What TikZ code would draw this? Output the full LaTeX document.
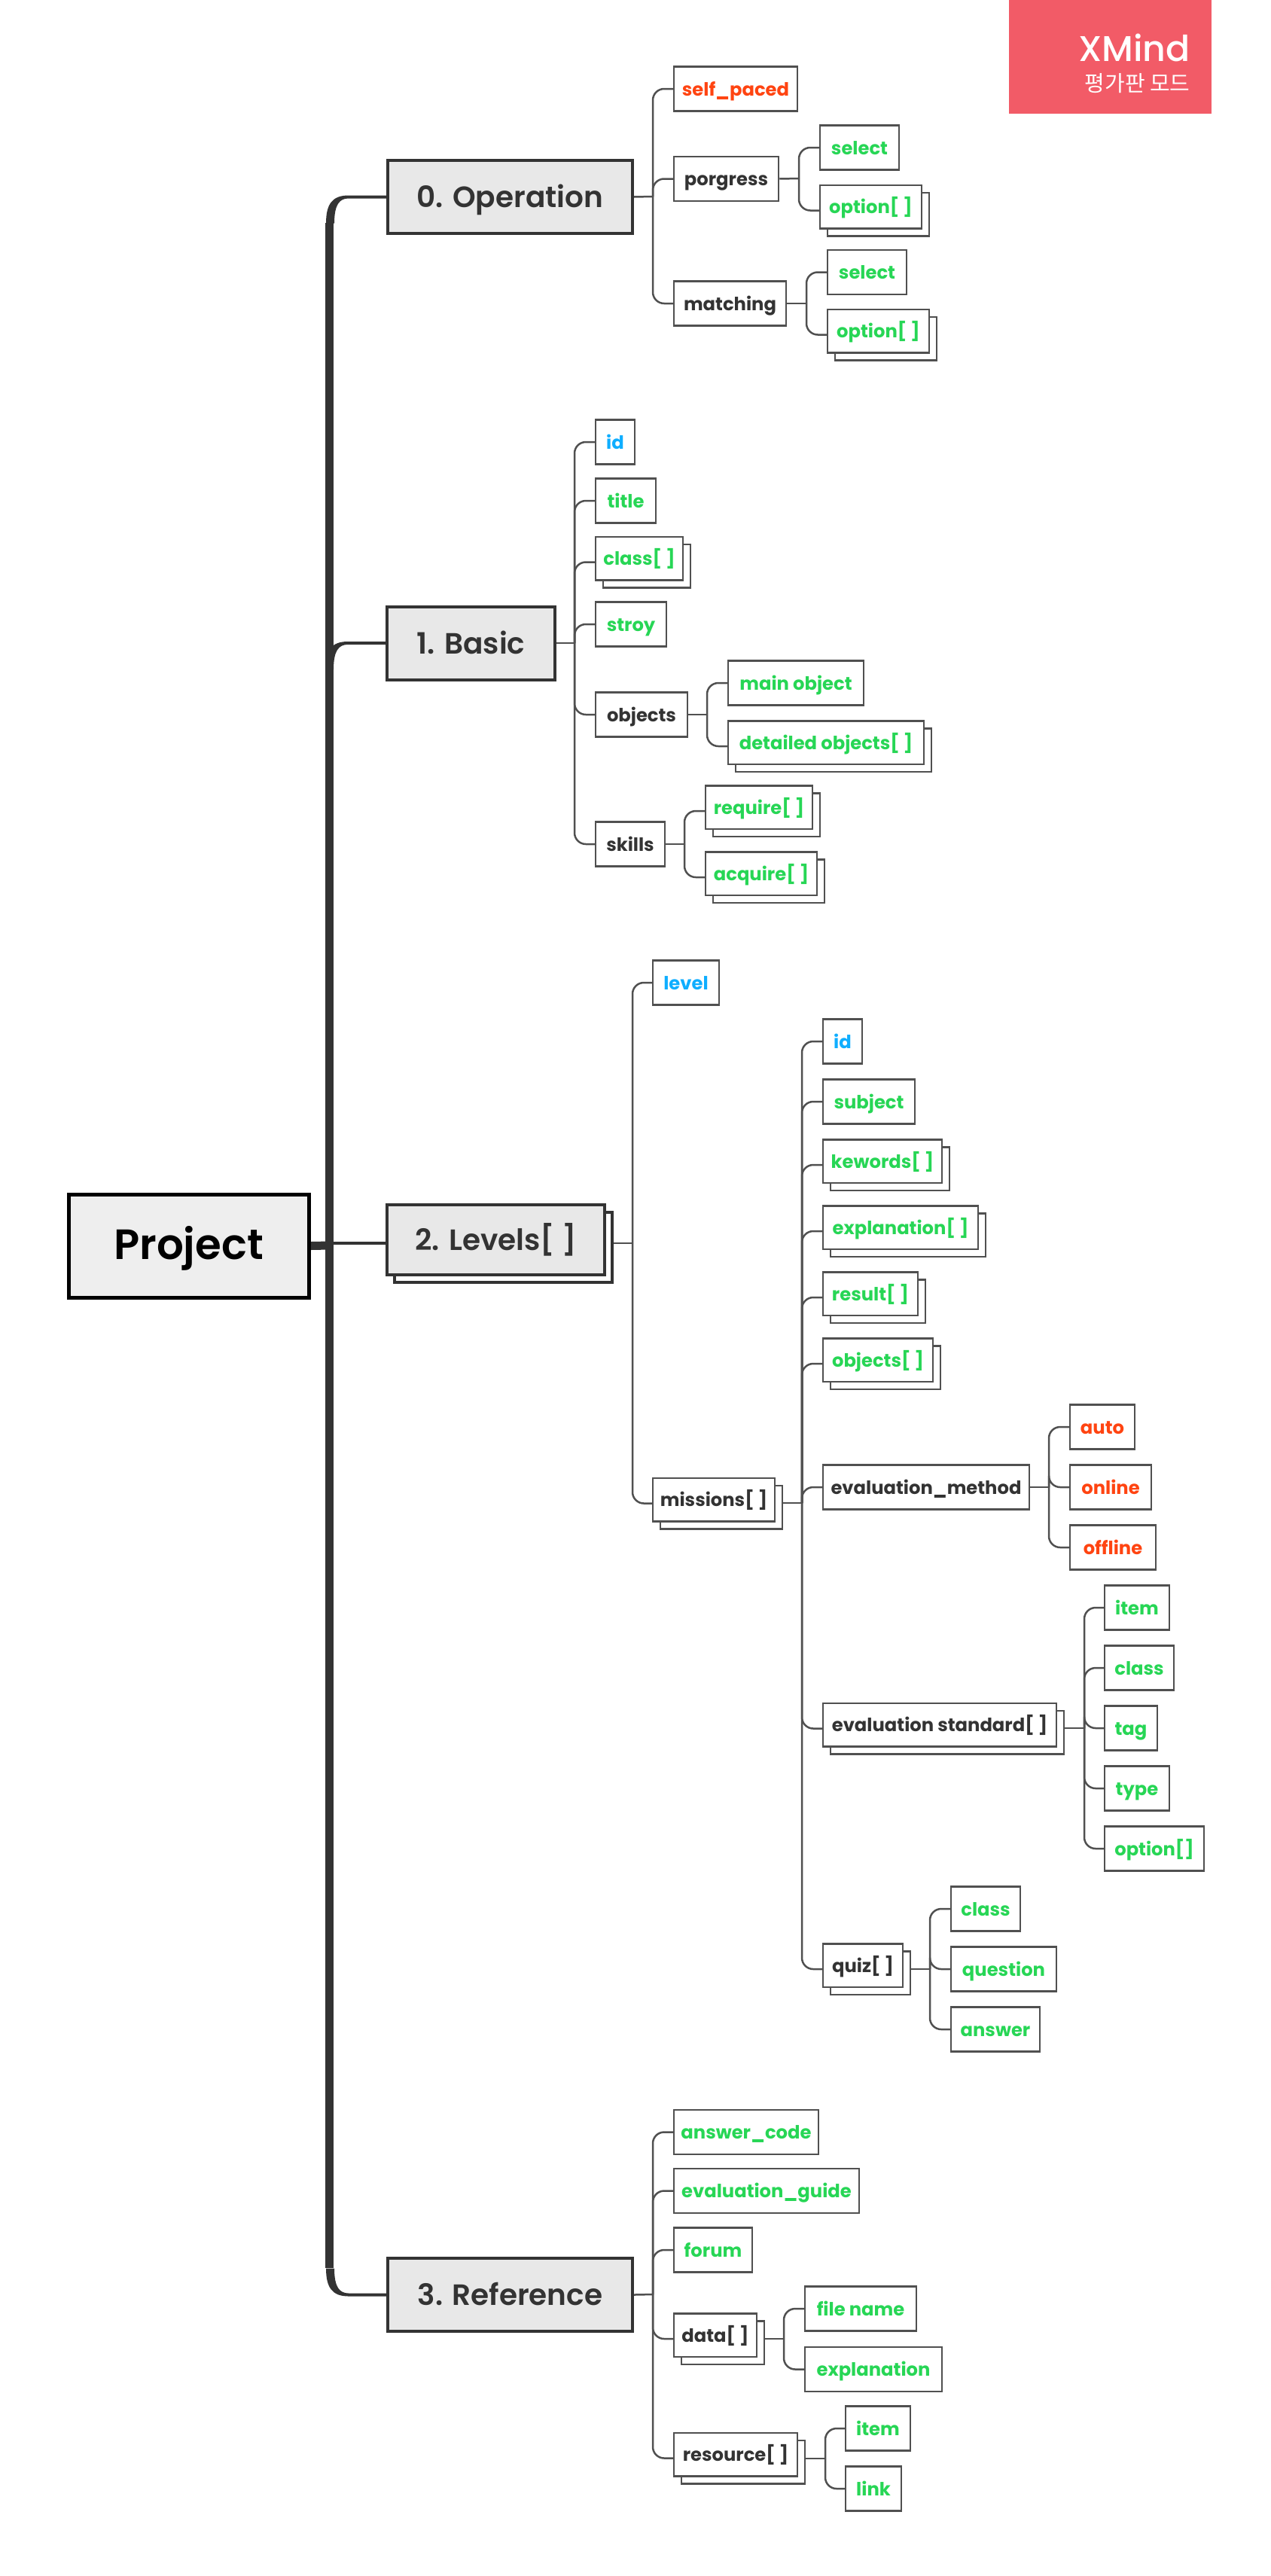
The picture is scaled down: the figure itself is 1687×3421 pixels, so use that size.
\documentclass[tikz,border=0pt]{standalone}
\usepackage{fontspec}
\setmainfont{Poppins}[UprightFont=* Medium,BoldFont=* SemiBold]
\newfontfamily\leaffont{Poppins}[UprightFont=* Bold]
\newfontfamily\krfont{Noto Sans CJK KR}
\usetikzlibrary{shadows,backgrounds,calc}

\newcommand{\px}{0.02cm}
\definecolor{linecol}{HTML}{505050}
\definecolor{darktext}{HTML}{333333}
\definecolor{greentext}{HTML}{27D655}
\definecolor{bluetext}{HTML}{0FAEFF}
\definecolor{redtext}{HTML}{FF4411}
\definecolor{logocol}{HTML}{F25B67}

\tikzset{
  leaf/.style={draw=linecol,line width=0.05cm,fill=white,inner sep=0pt,minimum height=59*\px,
    text height=22*\px,text depth=4*\px,text=greentext,font=\fontsize{13.8}{18}\selectfont\leaffont},
  stack/.style={leaf,minimum height=57.5*\px,
    copy shadow={shadow xshift=0.2cm,shadow yshift=-0.2cm,draw=linecol,fill=white}},
  topic/.style={draw=darktext,line width=0.08cm,fill=gray!18,inner sep=0pt,minimum height=97*\px,
    text height=34*\px,text depth=6*\px,text=darktext,font=\fontsize{22.2}{26}\selectfont\bfseries},
  link/.style={draw=linecol,line width=0.05cm,rounded corners=0.3cm},
  rootline/.style={draw=none,fill=darktext},
  inner/.style={text=darktext},
  idtext/.style={text=bluetext},
  modetext/.style={text=redtext}
}

% children of one trunk: name/offset of the connector from the node centre
\newcommand{\branches}[2]{\foreach \c/\d in {#2} \draw[link] (#1) |- ($(\c.west)+(0,\d)$);}
% thick line that thins out towards a topic
\newcommand{\rootbend}[2]{
  \begin{scope}[shift={(#1.west)},yscale=#2]
    \fill[rootline] (-80,35) .. controls (-80,10) and (-72,-2) .. (-50,-2) -- (0,-2) -- (0,2) -- (-50,2)
      .. controls (-62,2) and (-69,10) .. (-69,35) -- cycle;
  \end{scope}}

\begin{document}
\begin{tikzpicture}[x=0.02cm,y=-0.02cm]
\useasboundingbox (0,0) rectangle (1687,3421);

\node[fill=logocol,minimum width=269*\px,minimum height=151*\px,inner sep=0pt] (logo) at (1474.5,75.5) {};
\node[anchor=base east,inner sep=0pt,text=white,font=\fontsize{27}{30}\selectfont] (xmind) at (1581,81) {XMind};
\node[anchor=base east,inner sep=0pt,text=white,font=\krfont\fontsize{16.5}{18}\selectfont] (mode) at (1581,121) {평가판 모드};

\node[draw=black,line width=0.1cm,fill=gray!13,inner sep=0pt,minimum width=319*\px,minimum height=137*\px,
  text height=42*\px,text depth=7*\px,font=\fontsize{32}{36}\selectfont\bfseries] (project) at (250.5,1654.5) {Project};

% 0. Operation
\node[topic,minimum width=325*\px] (operation) at (677.5,261.5) {0. Operation};
\node[leaf,modetext,minimum width=164*\px] (selfpaced) at (977,118) {self\_paced};
\node[leaf,inner,minimum width=139*\px] (porgress) at (964.5,237.5) {porgress};
\node[leaf,minimum width=105*\px] (select1) at (1141.5,196) {select};
\node[stack,minimum width=135*\px] (option1) at (1156.5,274.5) {option[ ]};
\node[leaf,inner,minimum width=149*\px] (matching) at (969.5,403) {matching};
\node[leaf,minimum width=105*\px] (select2) at (1151.5,361.5) {select};
\node[stack,minimum width=135*\px] (option2) at (1166.5,439.5) {option[ ]};

% 1. Basic
\node[topic,minimum width=223*\px] (basic) at (625.5,854) {1. Basic};
\node[leaf,idtext,minimum width=52*\px] (id1) at (817,587) {id};
\node[leaf,minimum width=80*\px] (title) at (831,665) {title};
\node[stack,minimum width=116*\px] (class1) at (849,741.5) {class[ ]};
\node[leaf,minimum width=94*\px] (stroy) at (838,829) {stroy};
\node[leaf,inner,minimum width=122*\px] (objects1) at (852,949) {objects};
\node[leaf,minimum width=180*\px] (mainobj) at (1057,907) {main object};
\node[stack,minimum width=260*\px] (detailobj) at (1097,986) {detailed objects[ ]};
\node[leaf,inner,minimum width=92*\px] (skills) at (837,1121) {skills};
\node[stack,minimum width=142*\px] (require) at (1008,1072) {require[ ]};
\node[stack,minimum width=148*\px] (acquire) at (1011,1160) {acquire[ ]};

% 2. Levels[ ]
\node[topic,minimum width=289*\px,minimum height=93*\px,text height=34*\px,text depth=6*\px,
  copy shadow={shadow xshift=0.2cm,shadow yshift=-0.2cm,draw=darktext,fill=white}] (levels) at (658.5,1646.5) {2. Levels[ ]};
\node[leaf,idtext,minimum width=88*\px] (level) at (911,1305) {level};
\node[stack,inner,minimum width=162*\px] (missions) at (948,1991.5) {missions[ ]};
\node[leaf,idtext,minimum width=52*\px] (id2) at (1119,1383) {id};
\node[leaf,minimum width=122*\px] (subject) at (1154,1463) {subject};
\node[stack,minimum width=158*\px] (kewords) at (1172,1542) {kewords[ ]};
\node[stack,minimum width=206*\px] (explan1) at (1196,1630) {explanation[ ]};
\node[stack,minimum width=126*\px] (result) at (1156,1718) {result[ ]};
\node[stack,minimum width=146*\px] (objects2) at (1166,1806) {objects[ ]};
\node[leaf,inner,minimum width=274*\px] (evalmethod) at (1230,1975) {evaluation\_method};
\node[leaf,modetext,minimum width=86*\px] (auto) at (1464,1895) {auto};
\node[leaf,modetext,minimum width=108*\px] (online) at (1475,1975) {online};
\node[leaf,modetext,minimum width=114*\px] (offline) at (1478,2055) {offline};
\node[stack,inner,minimum width=310*\px] (evalstd) at (1248,2290.5) {evaluation standard[ ]};
\node[leaf,minimum width=86*\px] (item1) at (1510,2135) {item};
\node[leaf,minimum width=92*\px] (class2) at (1513,2215) {class};
\node[leaf,minimum width=70*\px] (tag) at (1502,2295) {tag};
\node[leaf,minimum width=86*\px] (type) at (1510,2375) {type};
\node[leaf,minimum width=132*\px] (option3) at (1533,2455) {option[]};
\node[stack,inner,minimum width=106*\px] (quiz) at (1146,2610) {quiz[ ]};
\node[leaf,minimum width=92*\px] (class3) at (1309,2535) {class};
\node[leaf,minimum width=140*\px] (question) at (1333,2615) {question};
\node[leaf,minimum width=118*\px] (answer) at (1322,2695) {answer};

% 3. Reference
\node[topic,minimum width=325*\px] (reference) at (677.5,3047.5) {3. Reference};
\node[leaf,minimum width=192*\px] (anscode) at (991,2831.5) {answer\_code};
\node[leaf,minimum width=246*\px] (evalguide) at (1018,2909.5) {evaluation\_guide};
\node[leaf,minimum width=104*\px] (forum) at (947,2988) {forum};
\node[stack,inner,minimum width=110*\px] (data) at (950,3101) {data[ ]};
\node[leaf,minimum width=148*\px] (filename) at (1143,3066) {file name};
\node[leaf,minimum width=182*\px] (explan2) at (1160,3146.5) {explanation};
\node[stack,inner,minimum width=164*\px] (resource) at (977,3259.5) {resource[ ]};
\node[leaf,minimum width=86*\px] (item2) at (1166,3225) {item};
\node[leaf,minimum width=74*\px] (link) at (1160,3305) {link};

\begin{pgfonlayer}{background}
% root
\coordinate (rootup) at (437.5,296);
\coordinate (rootmid) at (437.5,1654);
\coordinate (rootdown) at (437.5,3012);
\draw[darktext,line width=0.22cm] (rootup) -- (rootdown);
\draw[darktext,line width=0.22cm] (project.east) -- (rootmid);
\draw[darktext,line width=0.08cm] (rootmid |- levels.west) ++(0,4) -- ($(levels.west)+(0,4)$);
\rootbend{operation}{1}
\rootbend{basic}{1}
\rootbend{reference}{-1}

% 0. Operation
\coordinate (optrunk) at (867,261);
\draw[link] (operation.east) -- (optrunk);
\branches{optrunk}{selfpaced/0,porgress/0,matching/0}
\coordinate (progtrunk) at (1061,237);
\draw[link] (porgress.east) -- (progtrunk);
\branches{progtrunk}{select1/0,option1/5}
\coordinate (matchtrunk) at (1071,403);
\draw[link] (matching.east) -- (matchtrunk);
\branches{matchtrunk}{select2/0,option2/5}

% 1. Basic
\coordinate (basictrunk) at (763,854);
\draw[link] (basic.east) -- (basictrunk);
\branches{basictrunk}{id1/0,title/0,class1/5,stroy/0,objects1/0,skills/0}
\coordinate (objtrunk) at (939,949);
\draw[link] (objects1.east) -- (objtrunk);
\branches{objtrunk}{mainobj/0,detailobj/5}
\coordinate (skilltrunk) at (909,1121);
\draw[link] (skills.east) -- (skilltrunk);
\branches{skilltrunk}{require/5,acquire/5}

% 2. Levels[ ]
\coordinate (levtrunk) at (840,1651);
\draw[link] (levels.east |- levtrunk) -- (levtrunk);
\branches{levtrunk}{level/0,missions/5}
\coordinate (mistrunk) at (1065,1996);
\draw[link] (missions.east |- mistrunk) -- (mistrunk);
\branches{mistrunk}{id2/0,subject/0,kewords/5,explan1/5,result/5,objects2/5,evalmethod/0,evalstd/5,quiz/5}
\coordinate (methtrunk) at (1393,1975);
\draw[link] (evalmethod.east) -- (methtrunk);
\branches{methtrunk}{auto/0,online/0,offline/0}
\coordinate (stdtrunk) at (1440,2295);
\draw[link] (evalstd.east |- stdtrunk) -- (stdtrunk);
\branches{stdtrunk}{item1/0,class2/0,tag/0,type/0,option3/0}
\coordinate (quiztrunk) at (1235,2615);
\draw[link] (quiz.east |- quiztrunk) -- (quiztrunk);
\branches{quiztrunk}{class3/0,question/0,answer/0}

% 3. Reference
\coordinate (reftrunk) at (867,3047);
\draw[link] (reference.east) -- (reftrunk);
\branches{reftrunk}{anscode/0,evalguide/0,forum/0,data/5,resource/5}
\coordinate (datatrunk) at (1041,3106);
\draw[link] (data.east |- datatrunk) -- (datatrunk);
\branches{datatrunk}{filename/0,explan2/0}
\coordinate (restrunk) at (1096,3265);
\draw[link] (resource.east |- restrunk) -- (restrunk);
\branches{restrunk}{item2/0,link/0}
\end{pgfonlayer}
\end{tikzpicture}
\end{document}
